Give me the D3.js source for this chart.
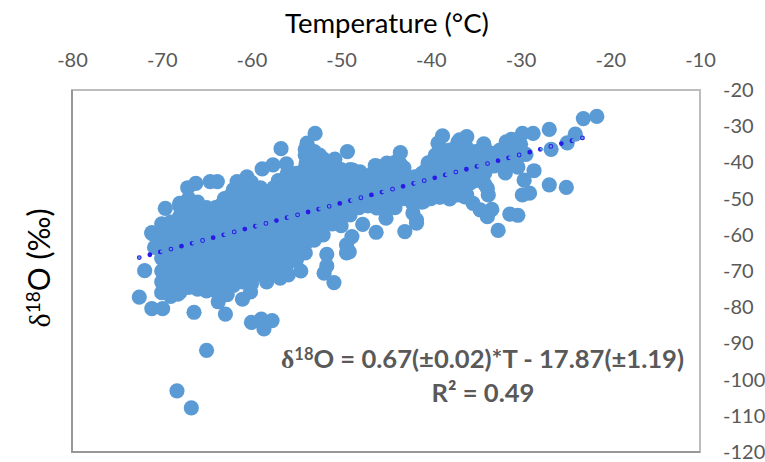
<!DOCTYPE html>
<html>
<head>
<meta charset="utf-8">
<script src="https://cdn.jsdelivr.net/npm/d3@7"></script>
<style>
html, body { margin: 0; padding: 0; background: #fff; }
svg { display: block; }
text { font-family: Lato, "Open Sans", sans-serif; }
</style>
</head>
<body>
<div id="chart"></div>
<script>
const xTicks = [-80, -70, -60, -50, -40, -30, -20, -10];
const yTicks = [-20, -30, -40, -50, -60, -70, -80, -90, -100, -110, -120];

// points that stand clear of the cloud, read one by one: [temperature, d18O]
const edgePoints = [
    [-72.5, -77.2], [-71.9, -69.9], [-71.1, -59.4], [-71.1, -80.4], [-69.9, -80.4], [-68.2, -76.4],
    [-66.4, -81.4], [-65, -91.9], [-68.3, -103.1], [-66.7, -107.8], [-62.9, -81.9], [-63.7, -78.5],
    [-62.7, -76.5], [-61, -77.8], [-60.1, -75.8], [-60, -84.2], [-58.9, -83.3], [-57.7, -83.7],
    [-58.6, -86], [-58.3, -73], [-56.8, -72], [-55.9, -71.1], [-54.5, -70], [-51.6, -65.4],
    [-51.6, -68.6], [-51.9, -70.6], [-50.8, -73.2], [-49.4, -65], [-46.1, -59.3], [-42.9, -59.1],
    [-41.6, -56.8], [-32.5, -58.8], [-49.1, -64.7], [-48.8, -60.5], [-49.4, -62.8], [-47.6, -57.1],
    [-21.5, -27.3], [-23, -27.9], [-23.9, -32.2], [-24.8, -34.6], [-26.8, -30.9], [-26.6, -36.4],
    [-26.8, -46.2], [-24.9, -46.9], [-28.6, -32], [-29.8, -32], [-31, -33.6], [-29.4, -37.8],
    [-28.5, -42.3], [-29.6, -44.9], [-29, -48.5], [-29.8, -49], [-31.2, -54.3], [-30.3, -54.6],
    [-33.7, -55], [-33.2, -53], [-34.5, -53.1], [-35.3, -51.3], [-33.6, -49], [-33.7, -47.2],
    [-36.2, -49.5], [-37.9, -50.1], [-39, -49.6], [-40.8, -50.8], [-41.6, -55.9], [-38.7, -32.7],
    [-39.2, -34.7], [-40.3, -40.1], [-36.8, -33.8], [-36, -32.9], [-34.1, -34.9], [-32.3, -36.6],
    [-31.6, -34.3], [-37.9, -36.6], [-31.7, -42.9], [-30.3, -41.3], [-43.4, -37.3], [-43.4, -40.5],
    [-41.8, -44], [-52.9, -32], [-53.8, -34.7], [-54, -36.4], [-56.7, -36.2], [-49.3, -37],
    [-52.4, -38], [-50.7, -39.1], [-46.2, -40.9], [-44.9, -40.2], [-43.8, -40.2], [-48.7, -42.1],
    [-47.9, -42.6], [-53.9, -40.2], [-56.1, -40.4], [-57.6, -40.7], [-58.8, -41.8], [-60.5, -44],
    [-61.6, -45.3], [-63.8, -45.3], [-64.6, -45.3], [-66.2, -45.8], [-67.1, -47], [-68, -51.3],
    [-69.6, -52.7], [-71.1, -59.6], [-45, -55.4]
];

// body of the cloud, estimated column by column
const coreT = [-70.8, -70, -69, -68, -67, -66, -65, -64, -63, -62, -61, -60, -59, -58, -57, -56, -55, -54,
    -53, -52, -51, -50, -49, -48, -47, -46, -45, -44, -43, -42, -41, -40, -39, -38, -37, -36, -35, -34, -33, -32, -31, -30];
const coreD = [
    [-60, -63.5],
    [-57, -59.5, -63, -66.5, -70, -73, -76],
    [-56.5, -60, -63.5, -67, -70.5, -74, -77],
    [-52, -55, -58.5, -62, -65.5, -69, -72.5, -76],
    [-50, -53.5, -57, -60.5, -64, -67.5, -71, -74.5],
    [-51, -54.5, -58, -61.5, -65, -68.5, -72, -75],
    [-52.5, -56, -59.5, -63, -66.5, -70, -73, -75.5],
    [-52.5, -55.5, -59, -62.5, -66, -69.5, -72.5, -75.5],
    [-50, -53.5, -57, -60.5, -64, -67.5, -71, -75],
    [-47.5, -51, -54.5, -58, -61.5, -65, -68.5, -72, -74],
    [-46, -49.5, -53, -56.5, -60, -63.5, -67, -70.5, -73],
    [-45.5, -49, -52.5, -56, -59.5, -63, -66.5, -70, -73.5],
    [-47, -50.5, -54, -57.5, -61, -64.5, -68, -71],
    [-48, -51.5, -55, -58.5, -62, -65.5, -69, -71],
    [-45, -48.5, -52, -55.5, -59, -62.5, -66, -69.5],
    [-43, -46.5, -50, -53.5, -57, -60.5, -64, -68],
    [-43, -46.5, -50, -53.5, -57, -60.5, -64, -67],
    [-38, -41.5, -45, -48.5, -52, -55.5, -59, -62.5, -65],
    [-37, -40.5, -44, -47.5, -51, -54.5, -58, -61.5],
    [-39, -42.5, -46, -49.5, -53, -56.5, -60],
    [-41, -44.5, -48, -51.5, -54.5, -57],
    [-42, -45.5, -49, -52.5, -55, -57.5],
    [-42, -45.5, -49, -52, -54.5],
    [-44, -47.5, -51, -52.5],
    [-44, -47.5, -50, -52],
    [-41, -44.5, -48, -52.6],
    [-42.5, -46, -49.5, -52],
    [-40, -43.5, -47, -50.5, -52.5],
    [-41.5, -45, -48.5, -50],
    [-44.5, -48, -51.5, -54],
    [-43, -46.5, -49.5, -51],
    [-40, -43.5, -47, -50],
    [-36, -39.5, -43, -46.5, -49.5],
    [-38.5, -41.5, -45, -49],
    [-34.5, -38, -41.5, -45, -49],
    [-36, -39.5, -43, -46.5, -49],
    [-37, -40.5, -44, -45],
    [-36, -39.5, -43, -46],
    [-37.5, -41],
    [-37, -41],
    [-36, -39.5],
    [-35, -38]
];

// more readings from inside the dense part, between the columns above
const denseT = [-69.5, -68.5, -67.5, -66.5, -65.5, -64.5, -63.5, -62.5, -61.5, -60.5, -59.5, -58.5, -57.5, -56.5, -55.5,
    -54.5, -53.5, -52.5, -51.5, -50.5, -49.5, -48.5, -47.5, -46.5, -45.5, -44.5, -43.5, -42.5, -41.5, -40.5, -39.5, -38.5, -37.5, -36.5, -35.5];
const denseD = [
    [-61.5, -65, -68.5, -72, -75.5],
    [-60.5, -64, -67.5, -71, -74.5],
    [-55, -58.5, -62, -65.5, -69, -72.5],
    [-53, -56.5, -60, -63.5, -67, -70.5, -73.5],
    [-54.5, -58, -61.5, -65, -68.5, -72],
    [-54, -57.5, -61, -64.5, -68, -71.5],
    [-52, -55.5, -59, -62.5, -66, -69.5, -73],
    [-49.5, -53, -56.5, -60, -63.5, -67, -70.5],
    [-48, -51.5, -55, -58.5, -62, -65.5, -69, -71.5],
    [-47.5, -51, -54.5, -58, -61.5, -65, -68.5],
    [-49, -52.5, -56, -59.5, -63, -66.5, -69.5],
    [-50, -53.5, -57, -60.5, -64, -67.5, -70],
    [-47, -50.5, -54, -57.5, -61, -64.5, -68],
    [-45, -48.5, -52, -55.5, -59, -62.5, -66],
    [-45, -48.5, -52, -55.5, -59, -62.5, -65.5],
    [-43, -46.5, -50, -53.5, -57, -60.5, -64],
    [-39, -42.5, -46, -49.5, -53, -56.5, -60],
    [-41, -44.5, -48, -51.5, -55, -58.5],
    [-43, -46.5, -50, -53.5, -56.5],
    [-44, -47.5, -51, -54.5],
    [-44, -47.5, -51, -53.5],
    [-46, -49.5, -52],
    [-46, -49],
    [-43, -46.5, -50],
    [-44, -47.5, -50.5],
    [-42, -45.5, -49],
    [-43.5, -47],
    [-46, -49.5],
    [-45, -48.5],
    [-42, -45.5, -48.5],
    [-38, -41.5, -45, -47.5],
    [-37, -40.5, -44, -47.5],
    [-39.5, -43, -46.5],
    [-38, -41.5, -45, -47.5],
    [-38.5, -42, -45.5]
];

// printed fit, its two ends
const trendT = [-72.5, -22];
const trendD = [-66.3, -32.5];

const tickFont = 20;
const fullW = 765, fullH = 462;
const plot = {left: 72, right: 700, top: 90, bottom: 452};
const dotGap = 10.93;

function columnsToPoints(temps, values) {
    return d3.merge(temps.map(function (t, i) {
        return values[i].map(function (d) { return [t, d]; });
    }));
}

const points = edgePoints.concat(columnsToPoints(coreT, coreD), columnsToPoints(denseT, denseD));

const svg = d3.select("#chart").append("svg")
    .attr("width", fullW)
    .attr("height", fullH);

const x = d3.scaleLinear().domain([-80, -10]).range([plot.left, plot.right]);
const y = d3.scaleLinear().domain([-20, -120]).range([plot.top, plot.bottom]);

// Plot frame: top and right are lighter than left and bottom
svg.append("rect")
    .attr("x", plot.left).attr("y", plot.top)
    .attr("width", plot.right - plot.left).attr("height", plot.bottom - plot.top)
    .attr("fill", "none").attr("stroke", "#bdbdbd").attr("stroke-width", 2);
svg.append("path")
    .attr("d", "M" + plot.left + "," + plot.top + "V" + plot.bottom + "H" + plot.right)
    .attr("fill", "none").attr("stroke", "#979797").attr("stroke-width", 2);

// Axes have labels only, no lines or tick marks. Plain hyphen as in the original
const xAxis = svg.append("g")
    .attr("transform", "translate(0,60)")
    .call(d3.axisTop(x).tickValues(xTicks).tickSize(0).tickPadding(0).tickFormat(String));
const yAxis = svg.append("g")
    .attr("transform", "translate(723,0)")
    .call(d3.axisRight(y).tickValues(yTicks).tickSize(0).tickPadding(0).tickFormat(String));
[xAxis, yAxis].forEach(function (axis) {
    axis.select(".domain").remove();
    axis.selectAll("text")
        .style("font-family", 'Lato, "Open Sans", sans-serif')
        .style("font-size", tickFont + "px")
        .style("fill", "#595959");
});
xAxis.selectAll("text").attr("y", 0).attr("dy", "0.35em");

// Add dots
svg.append("g")
    .selectAll("circle")
    .data(points)
    .enter()
    .append("circle")
    .attr("cx", function (d) { return x(d[0]); })
    .attr("cy", function (d) { return y(d[1]); })
    .attr("r", 7.6)
    .style("fill", "#5b9bd5");

// Dotted trend line. Every third dot is hollow and the one before it half covered
function trendLine(color, width, dash, offset) {
    svg.append("line")
        .attr("x1", x(trendT[0])).attr("y1", y(trendD[0]))
        .attr("x2", x(trendT[1])).attr("y2", y(trendD[1]))
        .attr("stroke", color)
        .attr("stroke-width", width)
        .attr("stroke-linecap", "round")
        .attr("stroke-dasharray", dash)
        .attr("stroke-dashoffset", offset);
}
trendLine("#2a1ae8", 4.8, "0 " + dotGap, 0);
trendLine("#5b9bd5", 2.8, "0 " + dotGap * 3, 0);
trendLine("#5b9bd5", 3.2, "0 " + dotGap * 3, dotGap - 1.2);

// Titles
svg.append("text")
    .attr("x", 387).attr("y", 33)
    .attr("text-anchor", "middle")
    .style("font-size", "27.5px")
    .style("fill", "#000")
    .text("Temperature (°C)");

const yTitle = svg.append("text")
    .attr("transform", "translate(50,268) rotate(-90)")
    .attr("text-anchor", "middle")
    .style("font-size", "30px")
    .style("fill", "#000");
yTitle.append("tspan").style("font-family", '"Liberation Serif", serif').text("δ");
yTitle.append("tspan").attr("dy", -10).style("font-size", "19px").text("18");
yTitle.append("tspan").attr("dy", 10).text("O (‰)");

// Fit equation
const eq = svg.append("text")
    .attr("x", 482.5).attr("y", 368)
    .attr("text-anchor", "middle")
    .style("font-size", "25.6px")
    .style("font-weight", "bold")
    .style("fill", "#595959");
eq.append("tspan").style("font-family", '"Liberation Serif", serif').text("δ");
eq.append("tspan").attr("dy", -8).style("font-size", "16.5px").text("18");
eq.append("tspan").attr("dy", 8).text("O = 0.67(±0.02)*T - 17.87(±1.19)");

svg.append("text")
    .attr("x", 483).attr("y", 402)
    .attr("text-anchor", "middle")
    .style("font-size", "25.6px")
    .style("font-weight", "bold")
    .style("fill", "#595959")
    .text("R² = 0.49");
</script>
</body>
</html>
